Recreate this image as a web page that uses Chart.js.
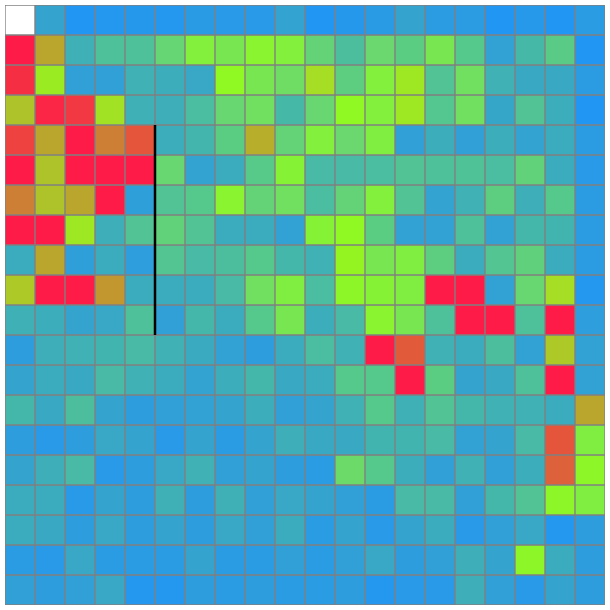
<!DOCTYPE html>
<html>
<head>
<meta charset="utf-8">
<script src="https://cdn.jsdelivr.net/npm/chart.js@4"></script>
<style>
  body { margin: 0; background: #fff; }
  #wrap { width: 610px; height: 610px; }
</style>
</head>
<body>
<div id="wrap"><canvas id="heatChart"></canvas></div>
<script>
const columns = ['0','1','2','3','4','5','6','7','8','9','10','11','12','13','14','15','16','17','18','19'];
const rowNames = ['0','1','2','3','4','5','6','7','8','9','10','11','12','13','14','15','16','17','18','19'];

// cell values, one array per row (null = empty cell)
const row0  = [null, 0.15, 0.00, 0.02, 0.03, 0.02, 0.06, 0.05, 0.05, 0.14, 0.00, 0.03, 0.06, 0.15, 0.08, 0.08, 0.00, 0.04, 0.00, 0.07];
const row1  = [1.00, 0.82, 0.24, 0.35, 0.35, 0.48, 0.60, 0.56, 0.62, 0.60, 0.47, 0.34, 0.50, 0.43, 0.56, 0.40, 0.13, 0.30, 0.42, 0.00];
const row2  = [0.98, 0.67, 0.12, 0.12, 0.25, 0.22, 0.18, 0.64, 0.56, 0.52, 0.70, 0.44, 0.60, 0.68, 0.37, 0.53, 0.25, 0.19, 0.19, 0.08];
const row3  = [0.75, 0.99, 0.97, 0.69, 0.24, 0.23, 0.33, 0.49, 0.53, 0.30, 0.49, 0.64, 0.60, 0.68, 0.39, 0.53, 0.17, 0.37, 0.22, 0.00];
const row4  = [0.96, 0.82, 1.00, 0.87, 0.94, 0.22, 0.28, 0.43, 0.80, 0.47, 0.60, 0.50, 0.59, 0.12, 0.22, 0.12, 0.22, 0.14, 0.21, 0.08];
const row5  = [1.00, 0.75, 1.00, 1.00, 1.00, 0.49, 0.14, 0.21, 0.41, 0.61, 0.31, 0.31, 0.33, 0.37, 0.35, 0.36, 0.33, 0.46, 0.21, 0.05];
const row6  = [0.87, 0.75, 0.82, 1.00, 0.11, 0.37, 0.40, 0.62, 0.47, 0.53, 0.33, 0.47, 0.60, 0.37, 0.14, 0.25, 0.44, 0.23, 0.40, 0.08];
const row7  = [1.00, 1.00, 0.68, 0.23, 0.37, 0.46, 0.37, 0.21, 0.21, 0.13, 0.61, 0.64, 0.43, 0.13, 0.13, 0.35, 0.13, 0.29, 0.27, 0.08];
const row8  = [0.21, 0.82, 0.11, 0.21, 0.10, 0.38, 0.31, 0.34, 0.40, 0.29, 0.25, 0.65, 0.56, 0.59, 0.44, 0.21, 0.38, 0.45, 0.21, 0.08];
const row9  = [0.74, 1.00, 1.00, 0.84, 0.21, 0.21, 0.21, 0.31, 0.53, 0.59, 0.33, 0.63, 0.61, 0.59, 1.00, 1.00, 0.13, 0.49, 0.70, 0.02];
const row10 = [0.24, 0.22, 0.15, 0.18, 0.35, 0.12, 0.29, 0.21, 0.40, 0.56, 0.22, 0.31, 0.62, 0.56, 0.35, 1.00, 1.00, 0.35, 1.00, 0.10];
const row11 = [0.09, 0.23, 0.25, 0.27, 0.31, 0.25, 0.20, 0.13, 0.09, 0.21, 0.33, 0.25, 1.00, 0.93, 0.25, 0.21, 0.34, 0.13, 0.74, 0.13];
const row12 = [0.15, 0.21, 0.19, 0.31, 0.25, 0.21, 0.14, 0.22, 0.29, 0.19, 0.21, 0.40, 0.40, 1.00, 0.43, 0.15, 0.19, 0.35, 1.00, 0.13];
const row13 = [0.29, 0.19, 0.34, 0.15, 0.09, 0.12, 0.13, 0.15, 0.22, 0.12, 0.15, 0.25, 0.40, 0.24, 0.37, 0.29, 0.25, 0.25, 0.21, 0.82];
const row14 = [0.09, 0.05, 0.09, 0.18, 0.15, 0.05, 0.15, 0.07, 0.15, 0.23, 0.19, 0.19, 0.27, 0.27, 0.31, 0.13, 0.15, 0.31, 0.94, 0.59];
const row15 = [0.15, 0.23, 0.31, 0.05, 0.09, 0.18, 0.25, 0.12, 0.15, 0.09, 0.07, 0.51, 0.40, 0.22, 0.12, 0.25, 0.12, 0.22, 0.92, 0.63];
const row16 = [0.21, 0.21, 0.05, 0.15, 0.09, 0.24, 0.09, 0.24, 0.12, 0.18, 0.15, 0.12, 0.07, 0.31, 0.31, 0.12, 0.29, 0.37, 0.63, 0.59];
const row17 = [0.21, 0.19, 0.09, 0.18, 0.09, 0.15, 0.09, 0.18, 0.12, 0.21, 0.07, 0.15, 0.05, 0.15, 0.21, 0.05, 0.12, 0.18, 0.02, 0.09];
const row18 = [0.07, 0.05, 0.18, 0.07, 0.07, 0.07, 0.15, 0.07, 0.07, 0.12, 0.07, 0.12, 0.18, 0.09, 0.12, 0.23, 0.15, 0.63, 0.21, 0.09];
const row19 = [0.12, 0.09, 0.12, 0.18, 0.02, 0.02, 0.09, 0.07, 0.09, 0.07, 0.07, 0.09, 0.02, 0.05, 0.05, 0.23, 0.12, 0.05, 0.15, 0.09];

const rows = [row0, row1, row2, row3, row4, row5, row6, row7, row8, row9,
              row10, row11, row12, row13, row14, row15, row16, row17, row18, row19];

// black divider: left edge of column 5, rows 4 to 10
const dividerCol = 5;
const dividerRowStart = 4;
const dividerRowEnd = 11;

const colorStops = [
    [0.00, [33, 150, 243]],
    [0.10, [46, 158, 220]],
    [0.20, [58, 170, 192]],
    [0.30, [70, 184, 168]],
    [0.40, [85, 200, 140]],
    [0.50, [106, 216, 110]],
    [0.60, [130, 240, 60]],
    [0.64, [144, 248, 34]],
    [0.70, [165, 222, 36]],
    [0.76, [176, 190, 42]],
    [0.82, [186, 166, 44]],
    [0.87, [205, 128, 53]],
    [0.94, [228, 85, 60]],
    [1.00, [255, 27, 72]]
];

function colorFor(v) {
    if (v === null || v === undefined) return '#ffffff';
    for (let i = 1; i < colorStops.length; i++) {
        const [v1, c1] = colorStops[i];
        if (v <= v1) {
            const [v0, c0] = colorStops[i - 1];
            const t = (v - v0) / (v1 - v0);
            const c = c0.map((a, k) => Math.round(a + (c1[k] - a) * t));
            return `rgb(${c[0]}, ${c[1]}, ${c[2]})`;
        }
    }
    return 'rgb(255, 27, 72)';
}

const dividerPlugin = {
    id: 'divider',
    afterDatasetsDraw(chart) {
        const { ctx, scales: { x, y } } = chart;
        const xPos = (x.getPixelForValue(dividerCol - 1) + x.getPixelForValue(dividerCol)) / 2;
        ctx.save();
        ctx.strokeStyle = '#000000';
        ctx.lineWidth = 2.5;
        ctx.beginPath();
        ctx.moveTo(xPos, y.getPixelForValue(dividerRowStart));
        ctx.lineTo(xPos, y.getPixelForValue(dividerRowEnd));
        ctx.stroke();
        ctx.restore();
    }
};

const ctx = document.getElementById('heatChart').getContext('2d');

const myChart = new Chart(ctx, {
    type: 'bar',
    data: {
        labels: columns,
        datasets: rows.map((vals, r) => ({
            label: rowNames[r],
            data: vals.map(() => 1),
            backgroundColor: vals.map(colorFor),
            borderColor: '#808080',
            borderWidth: 1,
            borderSkipped: false,
            categoryPercentage: 1,
            barPercentage: 1
        }))
    },
    options: {
        responsive: true,
        maintainAspectRatio: false,
        animation: false,
        layout: { padding: 5 },
        plugins: {
            legend: { display: false },
            tooltip: { enabled: false }
        },
        scales: {
            x: { stacked: true, display: false },
            y: { stacked: true, display: false, min: 0, max: 20, reverse: true }
        }
    },
    plugins: [dividerPlugin]
});
</script>
</body>
</html>
